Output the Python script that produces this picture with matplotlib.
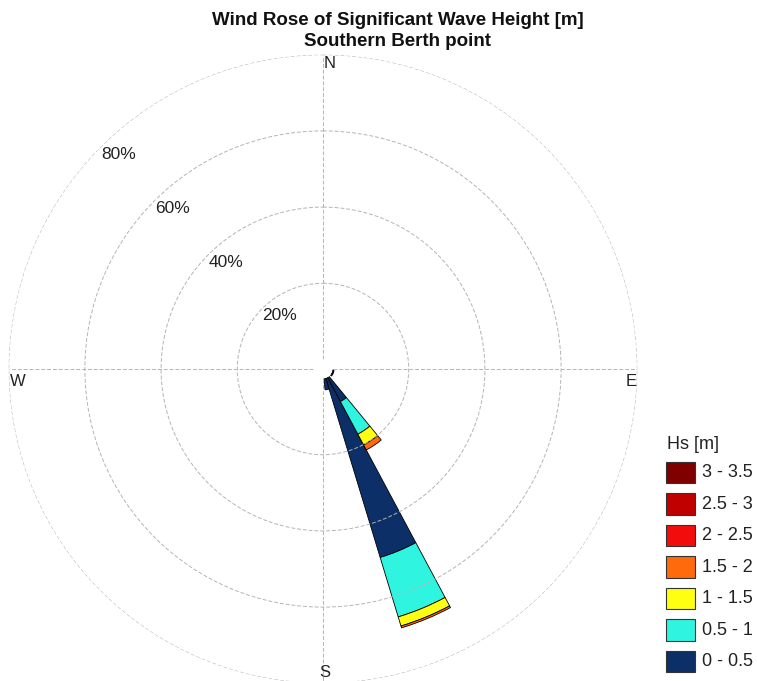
import numpy as np
import matplotlib
matplotlib.use("Agg")
import matplotlib.pyplot as plt
from matplotlib.patches import Rectangle

plt.rcParams["font.family"] = ["Liberation Sans", "DejaVu Sans"]

# ---- data -------------------------------------------------------------
# sector centres (compass degrees, 32 sectors of 11.25 deg)
sector_dirs = [101.25, 112.5, 123.75, 146.25, 157.5, 168.75]
hs_bins = ["0 - 0.5", "0.5 - 1", "1 - 1.5", "1.5 - 2", "2 - 2.5", "2.5 - 3", "3 - 3.5"]
hs_colors = ["#0b2f66", "#2ff5e0", "#ffff12", "#ff6a0d", "#f20c0c", "#c00000", "#800000"]
# frequency of occurrence [%] per Hs class and sector
freq_0_05 = [0.4, 0.4, 0.4, 7.2, 49.2, 3.0]
freq_05_1 = [0.0, 0.0, 0.0, 9.7, 16.3, 0.0]
freq_1_15 = [0.0, 0.0, 0.0, 3.2, 2.5, 0.0]
freq_15_2 = [0.0, 0.0, 0.0, 1.5, 0.5, 0.0]
freq_2_25 = [0.0, 0.0, 0.0, 0.0, 0.0, 0.0]
freq_25_3 = [0.0, 0.0, 0.0, 0.0, 0.0, 0.0]
freq_3_35 = [0.0, 0.0, 0.0, 0.0, 0.0, 0.0]
ring_levels = [20, 40, 60, 80]
sector_width = 11.25

W, H = 757, 681
fig = plt.figure(figsize=(W / 100, H / 100), dpi=100)


def fx(x):
    return x / W


def fy(y):
    return 1 - y / H


# polar axes: centre and radius in pixels
cx, cy, R = 323, 369, 314.3
ax = fig.add_axes([fx(cx - R), fy(cy + R), 2 * R / W, 2 * R / H], projection="polar")
ax.set_theta_zero_location("N")
ax.set_theta_direction(-1)
ax.set_rorigin(-2.5)
ax.set_ylim(0, max(ring_levels))
ax.set_frame_on(False)
ax.tick_params(axis="both", length=0, width=0)

theta = np.deg2rad(sector_dirs)
width = np.deg2rad(sector_width)
series = [freq_0_05, freq_05_1, freq_1_15, freq_15_2, freq_2_25, freq_25_3, freq_3_35]
bottom = np.zeros(len(sector_dirs))
for vals, col in zip(series, hs_colors):
    vals = np.asarray(vals, dtype=float)
    m = vals > 0
    if m.any():
        ax.bar(theta[m], vals[m], width=width, bottom=bottom[m], color=col,
               edgecolor="black", linewidth=0.6, zorder=1)
    bottom += vals

ax.set_xticks(np.deg2rad([0, 90, 180, 270]))
ax.set_xticklabels([])
ax.set_yticks(ring_levels)
ax.set_yticklabels([])
ax.grid(True, color="#b4b4b4", linestyle=(0, (4, 2)), linewidth=0.7)

for r in ring_levels:
    ax.text(np.deg2rad(315), r, f"{r}%", ha="left", va="top", fontsize=12.5,
            color="#222222")

# compass labels
lab_kw = dict(fontsize=12, color="#222222")
fig.text(fx(324), fy(68), "N", ha="left", va="baseline", **lab_kw)
fig.text(fx(324.5), fy(677), "S", ha="center", va="baseline", **lab_kw)
fig.text(fx(10), fy(386), "W", ha="left", va="baseline", **lab_kw)
fig.text(fx(637), fy(386), "E", ha="right", va="baseline", **lab_kw)

# title
fig.text(fx(398), fy(25), "Wind Rose of Significant Wave Height [m]", ha="center",
         va="baseline", fontsize=13.5, fontweight="bold", color="#111111")
fig.text(fx(398), fy(46), "Southern Berth point", ha="center", va="baseline",
         fontsize=13.5, fontweight="bold", color="#111111")

# legend
fig.text(fx(667), fy(449), "Hs [m]", ha="left", va="baseline", fontsize=13,
         color="#222222")
first_c, pitch = 472.5, 31.53
sq_w, sq_h = 29, 21.6
for i, (lab, col) in enumerate(zip(hs_bins[::-1], hs_colors[::-1])):
    yc = first_c + i * pitch
    fig.patches.append(Rectangle((fx(666), fy(yc + sq_h / 2)), sq_w / W, sq_h / H,
                                 transform=fig.transFigure, facecolor=col,
                                 edgecolor="#333333", linewidth=0.8))
    fig.text(fx(701.5), fy(yc), lab, ha="left", va="center", fontsize=13,
             color="#222222")

fig.savefig("out.png", dpi=100)
